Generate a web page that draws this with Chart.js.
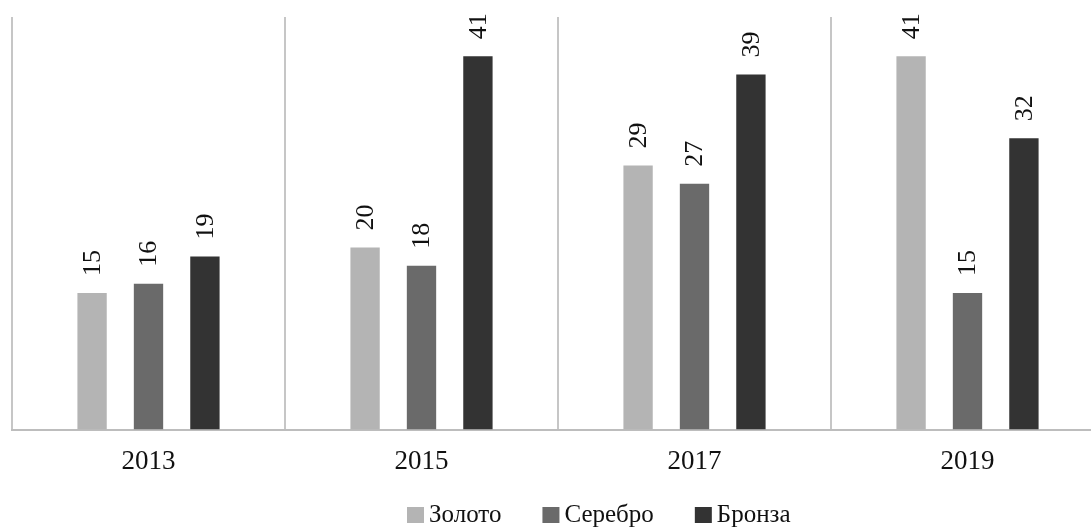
<!DOCTYPE html>
<html>
<head>
<meta charset="utf-8">
<script src="https://cdn.jsdelivr.net/npm/chart.js@4"></script>
<style>
    html, body { margin: 0; padding: 0; background: #fff; overflow: hidden; }
    #wrap { width: 1110px; height: 532px; }
</style>
</head>
<body>
<div id="wrap"><canvas id="medalChart"></canvas></div>
<script>
const years = ['2013', '2015', '2017', '2019'];
const gold = [15, 20, 29, 41];
const silver = [16, 18, 27, 15];
const bronze = [19, 41, 39, 32];

const serif = "'Liberation Serif', 'Times New Roman', serif";

// value labels, rotated, above each bar
const barLabels = {
    id: 'barLabels',
    afterDatasetsDraw(chart) {
        const ctx = chart.ctx;
        ctx.save();
        ctx.fillStyle = '#111';
        ctx.font = '26px ' + serif;
        ctx.textAlign = 'left';
        ctx.textBaseline = 'middle';
        chart.data.datasets.forEach((ds, i) => {
            chart.getDatasetMeta(i).data.forEach((bar, j) => {
                ctx.save();
                ctx.translate(bar.x, bar.y - 17);
                ctx.rotate(-Math.PI / 2);
                ctx.fillText(String(ds.data[j]), 0, 1);
                ctx.restore();
            });
        });
        ctx.restore();
    }
};

// legend row under the axis
const legendRow = {
    id: 'legendRow',
    afterDraw(chart) {
        const ctx = chart.ctx;
        ctx.save();
        ctx.font = '25px ' + serif;
        ctx.textAlign = 'left';
        ctx.textBaseline = 'middle';
        let x = 407;
        const cy = 515;
        chart.data.datasets.forEach(ds => {
            ctx.fillStyle = ds.backgroundColor;
            ctx.fillRect(x, cy - 8, 17, 16);
            ctx.fillStyle = '#111';
            ctx.fillText(ds.label, x + 22, cy);
            x += 22 + ctx.measureText(ds.label).width + 41;
        });
        ctx.restore();
    }
};

new Chart(document.getElementById('medalChart').getContext('2d'), {
    type: 'bar',
    data: {
        labels: years,
        datasets: [
            { label: 'Золото', data: gold, backgroundColor: '#b4b4b4' },
            { label: 'Серебро', data: silver, backgroundColor: '#6a6a6a' },
            { label: 'Бронза', data: bronze, backgroundColor: '#333333' }
        ]
    },
    options: {
        responsive: true,
        maintainAspectRatio: false,
        animation: false,
        categoryPercentage: 0.62,
        barPercentage: 0.52,
        layout: { padding: { left: 12, right: 6, top: 17, bottom: 38 } },
        plugins: {
            legend: { display: false },
            tooltip: { enabled: false }
        },
        scales: {
            x: {
                grid: { offset: true, color: '#c6c6c6', lineWidth: 2, drawTicks: false },
                border: { display: true, color: '#bdbdbd', width: 2 },
                ticks: { color: '#111', padding: 16, font: { family: serif, size: 27 } }
            },
            y: {
                display: false,
                min: 0,
                max: 45.3
            }
        }
    },
    plugins: [barLabels, legendRow]
});
</script>
</body>
</html>
